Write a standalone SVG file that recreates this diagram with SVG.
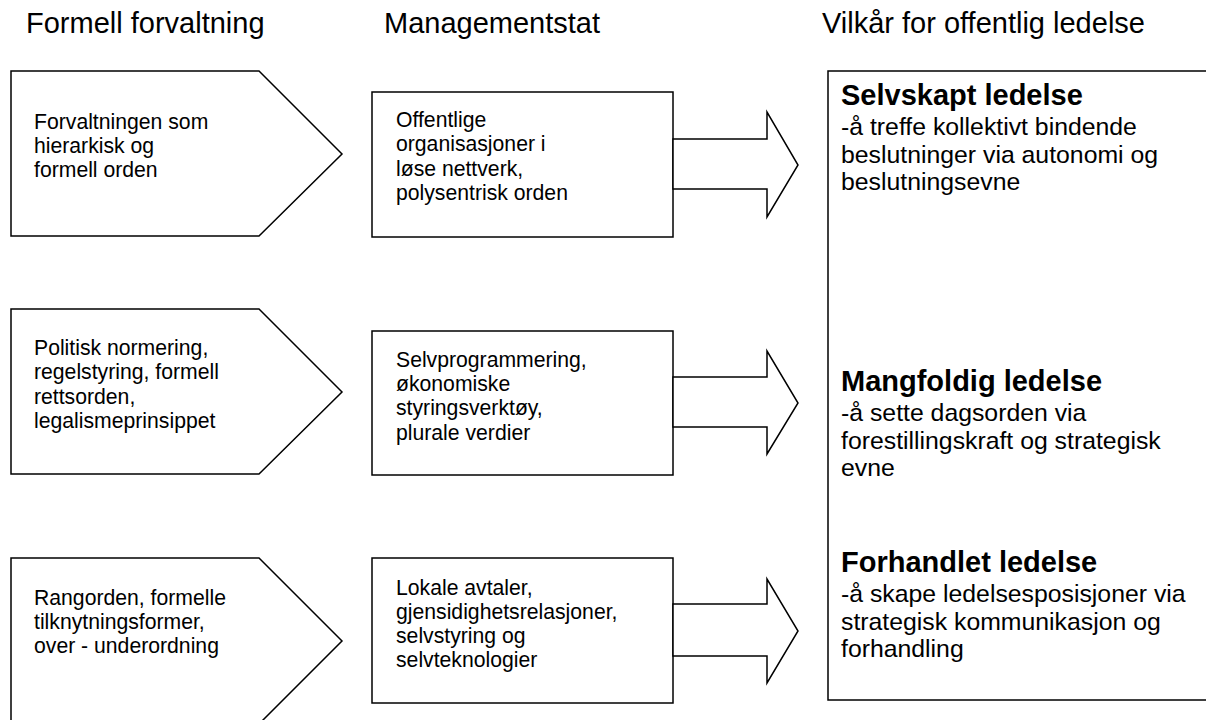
<svg xmlns="http://www.w3.org/2000/svg" width="1206" height="720" viewBox="0 0 1206 720">
<style>
.shape{fill:#fff;stroke:#000;stroke-width:1.5;stroke-linejoin:miter}
.hdr{font-family:"Liberation Sans",Arial,sans-serif;font-size:29px;fill:#000}
.t{font-family:"Liberation Sans",Arial,sans-serif;font-size:21.2px;fill:#000}
.rt{font-family:"Liberation Sans",Arial,sans-serif;font-size:24.8px;fill:#000}
.rb{font-family:"Liberation Sans",Arial,sans-serif;font-size:29px;font-weight:bold;fill:#000}
</style>
<rect width="1206" height="720" fill="#fff"/>
<g id="headers">
<text class="hdr" x="26" y="33">Formell forvaltning</text>
<text class="hdr" x="384" y="33">Managementstat</text>
<text class="hdr" x="822" y="33">Vilkår for offentlig ledelse</text>
</g>
<g id="left1">
<polygon class="shape" points="11,71 259,71 342,154 259,236 11,236"/>
<text class="t" x="34" y="129"><tspan x="34">Forvaltningen som</tspan><tspan x="34" dy="24">hierarkisk og</tspan><tspan x="34" dy="24">formell orden</tspan></text>
</g>
<g id="left2">
<polygon class="shape" points="11,309 259,309 342,392 259,474 11,474"/>
<text class="t" x="34" y="355"><tspan x="34">Politisk normering,</tspan><tspan x="34" dy="24.3">regelstyring, formell</tspan><tspan x="34" dy="24.3">rettsorden,</tspan><tspan x="34" dy="24.3">legalismeprinsippet</tspan></text>
</g>
<g id="left3">
<polygon class="shape" points="11,558 259,558 342,641 259,724 11,724"/>
<text class="t" x="34" y="605"><tspan x="34">Rangorden, formelle</tspan><tspan x="34" dy="24.2">tilknytningsformer,</tspan><tspan x="34" dy="24.2">over - underordning</tspan></text>
</g>
<g id="mid1">
<rect class="shape" x="372" y="92" width="301" height="145"/>
<text class="t" x="396" y="127"><tspan x="396">Offentlige</tspan><tspan x="396" dy="24.4">organisasjoner i</tspan><tspan x="396" dy="24.4">løse nettverk,</tspan><tspan x="396" dy="24.4">polysentrisk orden</tspan></text>
</g>
<g id="mid2">
<rect class="shape" x="372" y="331" width="301" height="144"/>
<text class="t" x="396" y="367"><tspan x="396">Selvprogrammering,</tspan><tspan x="396" dy="24.2">økonomiske</tspan><tspan x="396" dy="24.2">styringsverktøy,</tspan><tspan x="396" dy="24.2">plurale verdier</tspan></text>
</g>
<g id="mid3">
<rect class="shape" x="372" y="558" width="301" height="145"/>
<text class="t" x="396" y="595"><tspan x="396">Lokale avtaler,</tspan><tspan x="396" dy="24">gjensidighetsrelasjoner,</tspan><tspan x="396" dy="24">selvstyring og</tspan><tspan x="396" dy="24">selvteknologier</tspan></text>
</g>
<g id="right">
<rect class="shape" x="828" y="71" width="400" height="629"/>
<text class="rb" x="841" y="105">Selvskapt ledelse</text>
<text class="rt" x="841" y="135"><tspan x="841">-å treffe kollektivt bindende</tspan><tspan x="841" dy="27.5">beslutninger via autonomi og</tspan><tspan x="841" dy="27.5">beslutningsevne</tspan></text>
<text class="rb" x="841" y="391">Mangfoldig ledelse</text>
<text class="rt" x="841" y="421"><tspan x="841">-å sette dagsorden via</tspan><tspan x="841" dy="27.5">forestillingskraft og strategisk</tspan><tspan x="841" dy="27.5">evne</tspan></text>
<text class="rb" x="841" y="572">Forhandlet ledelse</text>
<text class="rt" x="841" y="602"><tspan x="841">-å skape ledelsesposisjoner via</tspan><tspan x="841" dy="27.5">strategisk kommunikasjon og</tspan><tspan x="841" dy="27.5">forhandling</tspan></text>
</g>
<g id="connectors">
<polygon class="shape" points="673,139 767,139 767,112 798,165 767,217 767,189 673,189"/>
<polygon class="shape" points="673,377 767,377 767,351 798,403 767,454 767,427 673,427"/>
<polygon class="shape" points="673,604 767,604 767,579 798,631 767,683 767,656 673,656"/>
</g>
</svg>
